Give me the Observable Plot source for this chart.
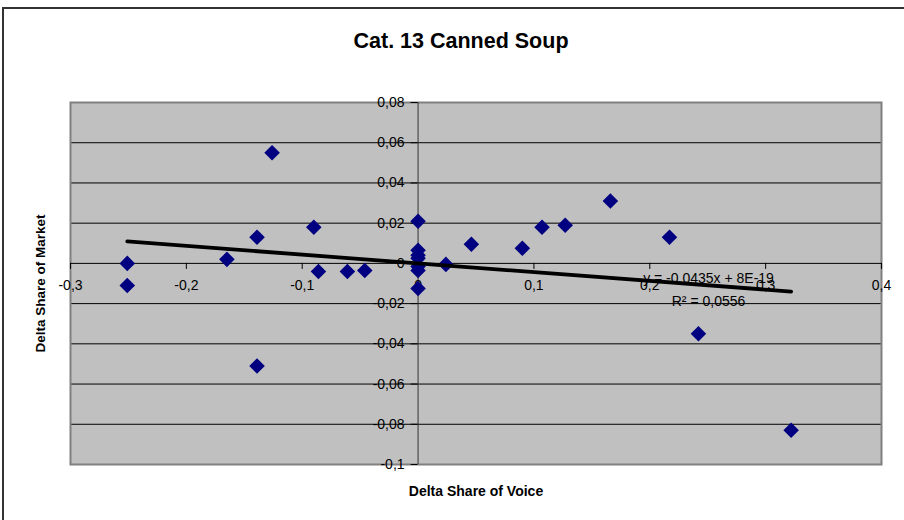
<!DOCTYPE html>
<html><head><meta charset="utf-8">
<script src="https://cdn.jsdelivr.net/npm/d3@7"></script>
<script src="https://cdn.jsdelivr.net/npm/@observablehq/plot@0.6"></script>
<style>
html,body{margin:0;padding:0;background:#fff;}
#wrap{position:relative;width:904px;height:520px;overflow:hidden;}
#wrap svg{position:absolute;left:0;top:0;}
#border{position:absolute;left:2px;top:7px;width:2000px;height:2000px;border-left:2px solid #333;border-top:2px solid #333;pointer-events:none;}
</style></head><body><div id="wrap"></div>
<script>
// Data
const voiceDelta  = [-0.251,-0.251,-0.165,-0.139,-0.126,-0.139,-0.090,-0.086,-0.061,-0.046,
                      0.000, 0.000, 0.000, 0.000, 0.000, 0.000, 0.000, 0.024, 0.046, 0.090,
                      0.107, 0.127, 0.166, 0.217, 0.242, 0.322];
const marketDelta = [ 0.000,-0.011, 0.002, 0.013, 0.055,-0.051, 0.018,-0.004,-0.004,-0.0035,
                      0.021, 0.0065,0.004, 0.0025,-0.0015,-0.0035,-0.0125,-0.0005,0.0095,0.0075,
                      0.018, 0.019, 0.031, 0.013,-0.035,-0.083];
const xTicks = [-0.3,-0.2,-0.1,0,0.1,0.2,0.3,0.4];
const xTickLabels = ["-0,3","-0,2","-0,1","0","0,1","0,2","0,3","0,4"];
const yTicks = [0.08,0.06,0.04,0.02,0,-0.02,-0.04,-0.06,-0.08,-0.1];
const yTickLabels = ["0,08","0,06","0,04","0,02","0","-0,02","-0,04","-0,06","-0,08","-0,1"];
const trendSlope = -0.0435;
const trendIntercept = 8e-19;
const titleText = "Cat. 13 Canned Soup";
const xTitle = "Delta Share of Voice";
const yTitle = "Delta Share of Market";
const eqLabel = "y = -0,0435x + 8E-19";
const r2Label = "R² = 0,0556";

const points = voiceDelta.map((v,i)=>({x:v, y:marketDelta[i]}));
const xMin = d3.min(voiceDelta), xMax = d3.max(voiceDelta);
const trend = [xMin, xMax].map(x=>({x, y: trendSlope*x + trendIntercept}));
const xt = xTicks.map((v,i)=>({v, label:xTickLabels[i]}));
const yt = yTicks.map((v,i)=>({v, label:yTickLabels[i]}));

const font = "Liberation Sans, Arial, sans-serif";
const chart = Plot.plot({
  width: 904, height: 520,
  marginLeft: 70, marginRight: 23, marginTop: 102, marginBottom: 56,
  style: {fontFamily: font, background: "transparent", overflow: "visible"},
  x: {domain: [-0.3, 0.4], axis: null},
  y: {domain: [-0.1, 0.08], axis: null},
  marks: [
    Plot.frame({fill: "#c0c0c0", stroke: null}),
    Plot.ruleY(yt.filter(d=>d.v!==0), {y: "v", stroke: "#000", strokeWidth: 1}),
    Plot.frame({stroke: "#808080", strokeWidth: 2}),
    // axes crossing at zero
    Plot.ruleY([0], {stroke: "#000", strokeWidth: 1}),
    Plot.ruleX([0], {stroke: "#333", strokeWidth: 1}),
    Plot.ruleX(xt, {x: "v", y1: 0, y2: -0.003, stroke: "#000", strokeWidth: 1}),
    Plot.ruleY(yt, {y: "v", x1: 0, x2: -0.006, stroke: "#000", strokeWidth: 1}),
    Plot.text(xt, {x: "v", y: 0, text: "label", dy: 22, fontSize: 14, fill: "#000", lineAnchor: "middle"}),
    Plot.text(yt, {x: 0, y: "v", text: "label", dx: -13.5, textAnchor: "end", fontSize: 14, fill: "#000", lineAnchor: "middle"}),
    // data
    Plot.dot(points, {x: "x", y: "y", symbol: "diamond2", r: 7, fill: "#000080", stroke: null}),
    Plot.line(trend, {x: "x", y: "y", stroke: "#000", strokeWidth: 3.8}),
    Plot.text([eqLabel], {x: 0.2507, y: -0.0075, text: d=>d, fontSize: 14, fill: "#000", lineAnchor: "middle"}),
    Plot.text([r2Label], {x: 0.2507, y: -0.0191, text: d=>d, fontSize: 14, fill: "#000", lineAnchor: "middle"}),
    // titles
    Plot.text([titleText], {frameAnchor: "top", text: d=>d, dx: -15, dy: -61, fontSize: 21.5, fontWeight: "bold", fill: "#000", lineAnchor: "middle"}),
    Plot.text([xTitle], {frameAnchor: "bottom", text: d=>d, dy: 27, fontSize: 14, fontWeight: "bold", fill: "#000", lineAnchor: "middle"}),
    Plot.text([yTitle], {frameAnchor: "left", text: d=>d, dx: -30, rotate: -90, textAnchor: "middle", fontSize: 13.5, fontWeight: "bold", fill: "#000", lineAnchor: "middle"})
  ]
});
const wrap = document.getElementById("wrap");
wrap.appendChild(chart);
const b = document.createElement("div"); b.id = "border"; wrap.appendChild(b);
</script>
</body></html>
